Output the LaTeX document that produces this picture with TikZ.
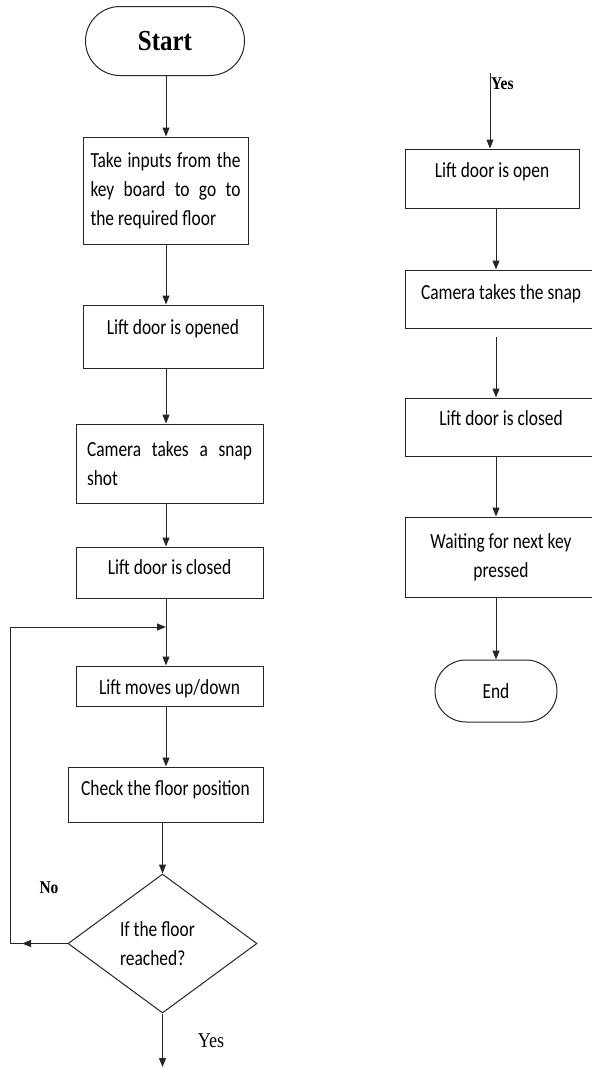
\documentclass[tikz,border=0pt]{standalone}
\usepackage{fontspec}
\setmainfont{Carlito}[FakeStretch=0.81]
\newfontfamily\lblfont{Liberation Serif}[FakeStretch=0.86]
\usetikzlibrary{arrows.meta,shapes.geometric,shapes.misc}
\begin{document}
\begin{tikzpicture}[x=1pt,y=-1pt,
  line/.style={line width=1pt, draw=black!85},
  arr/.style={line, -{Triangle[length=9pt,width=7pt]}},
  box/.style={draw=black!85, line width=1pt, rectangle, inner sep=0pt,
    font=\fontsize{21.5}{29}\selectfont, text=black},
  term/.style={draw=black!85, line width=1pt, rounded rectangle, inner sep=0pt, text=black},
  tup/.style={text height=20pt, text depth=#1},
  lbl/.style={inner sep=0pt, text=black},
]
\useasboundingbox (0,0) rectangle (592,1069);
\fill[white] (0,0) rectangle (592,1069);

% columns
\coordinate (colL) at (166,0);
\coordinate (colR) at (496,0);

% left column
\node[term, minimum width=159pt, minimum height=69pt,
      font=\lblfont\bfseries\fontsize{29}{31}\selectfont] (start) at (165,41) {Start};
\node[box, minimum width=165pt, minimum height=107pt, align=left] (b1) at (165.5,190.5)
  {\makebox[150pt][s]{Take inputs from the}\\\makebox[150pt][s]{key board to go to}\\the required floor};
\node[box, minimum width=180pt, minimum height=63pt, tup=25pt] (b2) at (173,336.5) {Lift door is opened};
\node[box, minimum width=187pt, minimum height=79pt, align=left] (b3) at (169.5,463.5)
  {\makebox[165pt][s]{Camera takes a snap}\\shot};
\node[box, minimum width=187pt, minimum height=51pt, tup=17pt] (b4) at (169.5,572.5) {Lift door is closed};
\node[box, minimum width=187pt, minimum height=40pt, tup=4pt] (b5) at (169.5,686) {Lift moves up/down};
\node[box, minimum width=195pt, minimum height=55pt, tup=19pt] (b6) at (165.5,794.5) {Check the floor position};
\node[box, diamond, minimum width=189pt, minimum height=139pt, align=left] (dia) at (162.5,943.5)
  {If the floor\hspace*{10pt}\\reached?};

\node[lbl, font=\lblfont\bfseries\fontsize{18}{20}\selectfont] (no) at (49,888) {No};
\node[lbl, font=\lblfont\fontsize{21}{23}\selectfont] (yes1) at (211,1041) {Yes};

% left connectors
\draw[arr] (start.south -| colL) -- (b1.north -| colL);
\draw[arr] (b1.south -| colL) -- (b2.north -| colL);
\draw[arr] (b2.south -| colL) -- (b3.north -| colL);
\draw[arr] (b3.south -| colL) -- (b4.north -| colL);
\draw[arr] (b4.south -| colL) -- (b5.north -| colL);
\draw[arr] (b5.south -| colL) -- (b6.north -| colL);
\draw[arr] (b6.south -| dia.north) -- (dia.north);
\coordinate (loopTop) at (10,627);
\coordinate (join) at (166,627);
\coordinate (noEnd) at (10,943.5);
\coordinate (noTip) at (22,943.5);
\coordinate (yesEnd) at (162.5,1067);
\draw[line] (dia.west) -- (noEnd) -- (loopTop);
\draw[arr] (dia.west) -- (noTip);
\draw[arr] (loopTop) -- (join);
\draw[arr] (dia.south) -- (yesEnd);

% right column
\node[box, minimum width=174pt, minimum height=59pt, tup=23pt] (r1) at (492,178.5) {Lift door is open};
\node[box, minimum width=192pt, minimum height=58pt, tup=20pt] (r2) at (501,299) {Camera takes the snap};
\node[box, minimum width=192pt, minimum height=58pt, tup=24pt] (r3) at (501,427) {Lift door is closed};
\node[box, minimum width=192pt, minimum height=80pt, align=center] (r4) at (501,557) {Waiting for next key\\pressed};
\node[term, minimum width=122pt, minimum height=62pt, font=\fontsize{21.5}{29}\selectfont] (end) at (496,691) {End};

\coordinate (yesTop) at (490,73);
\draw[arr] (yesTop) -- (r1.north -| yesTop);
\node[lbl, anchor=west, font=\lblfont\bfseries\fontsize{18}{20}\selectfont] (yes2) at (491,84) {Yes};

\draw[arr] (r1.south -| colR) -- (r2.north -| colR);
\draw[arr, shorten <=8pt] (r2.south -| colR) -- (r3.north -| colR);
\draw[arr] (r3.south -| colR) -- (r4.north -| colR);
\draw[arr] (r4.south -| colR) -- (end.north -| colR);
\end{tikzpicture}
\end{document}
